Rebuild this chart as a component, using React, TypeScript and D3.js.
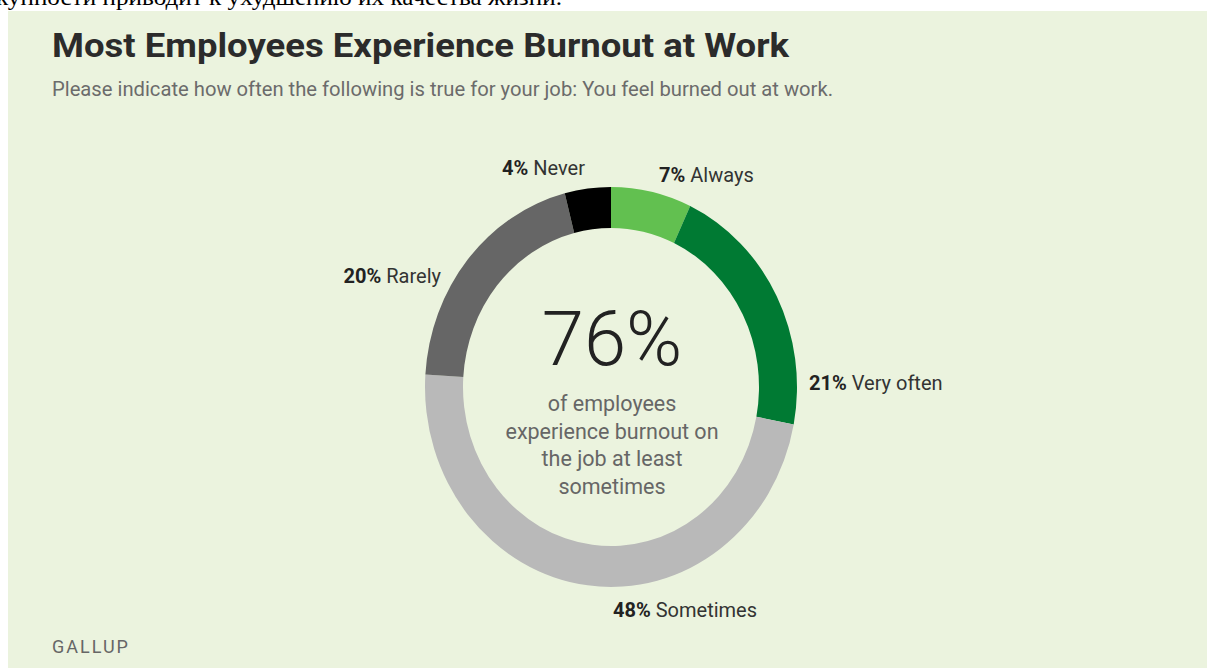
import React from "react";
import * as d3 from "d3";

const categories = ["Always", "Very often", "Sometimes", "Rarely", "Never"];
const values = [7, 21, 48, 20, 4];
const sliceColors = ["#62c050", "#007a33", "#b9b9b9", "#666666", "#000000"];
const centerValue = "76%";
const centerLines = ["of employees", "experience burnout on", "the job at least", "sometimes"];
const title = "Most Employees Experience Burnout at Work";
const subtitle = "Please indicate how often the following is true for your job: You feel burned out at work.";
const source = "GALLUP";
const cutText = "купности приводит к ухудшению их качества жизни.";

const W = 1207;
const H = 668;

// label layout (not data)
const labelLayout: Record<string, { x: number; y: number; anchor: "start" | "end" }> = {
  Always: { x: 659, y: 182, anchor: "start" },
  "Very often": { x: 809, y: 390, anchor: "start" },
  Sometimes: { x: 613, y: 617, anchor: "start" },
  Rarely: { x: 441, y: 283, anchor: "end" },
  Never: { x: 585, y: 175, anchor: "end" },
};

export default function App() {
  const data = categories.map((c, i) => ({ cat: c, value: values[i], color: sliceColors[i] }));
  const pie = d3
    .pie<{ cat: string; value: number; color: string }>()
    .sort(null)
    .value((d) => d.value)
    .startAngle(0)
    .endAngle(2 * Math.PI);
  const arcs = pie(data);
  const arc = d3.arc<d3.PieArcDatum<any>>().innerRadius(148).outerRadius(186);
  const font = "Roboto, 'Noto Sans', Arial, sans-serif";

  return (
    <svg
      width={W}
      height={H}
      style={{ position: "absolute", left: 0, top: 0, background: "#ffffff" }}
      fontFamily={font}
    >
      <text x={-4} y={5} fontFamily="'Liberation Serif', 'DejaVu Serif', serif" fontSize={23} fill="#000" textLength={566} lengthAdjust="spacingAndGlyphs">
        {cutText}
      </text>
      <rect x={8} y={11} width={W - 8} height={H - 11} fill="#ebf3de" />
      <text x={52} y={57} fontSize={34} fontWeight={700} fill="#2b2b2b" textLength={737} lengthAdjust="spacingAndGlyphs">
        {title}
      </text>
      <text x={52} y={96} fontSize={19.5} fill="#6b6b6b" textLength={781} lengthAdjust="spacingAndGlyphs">
        {subtitle}
      </text>

      <g transform="translate(611,387) scale(1,1.075)">
        {arcs.map((a, i) => (
          <path key={i} d={arc(a) as string} fill={a.data.color} />
        ))}
      </g>

      {arcs.map((a, i) => {
        const L = labelLayout[a.data.cat];
        return (
          <text key={"l" + i} x={L.x} y={L.y} fontSize={20} fill="#333" textAnchor={L.anchor}>
            <tspan fontWeight={700} fill="#222">{a.data.value}%</tspan>
            <tspan> {a.data.cat}</tspan>
          </text>
        );
      })}

      <text x={612} y={365} textAnchor="middle" fontSize={76} fontWeight={300} fill="#222">
        {centerValue}
      </text>
      {centerLines.map((t, i) => (
        <text key={"c" + i} x={612} y={411 + i * 27.7} textAnchor="middle" fontSize={21.5} fill="#666">
          {t}
        </text>
      ))}

      <text x={52} y={653} fontSize={18} fill="#666" letterSpacing={2}>
        {source}
      </text>
    </svg>
  );
}
